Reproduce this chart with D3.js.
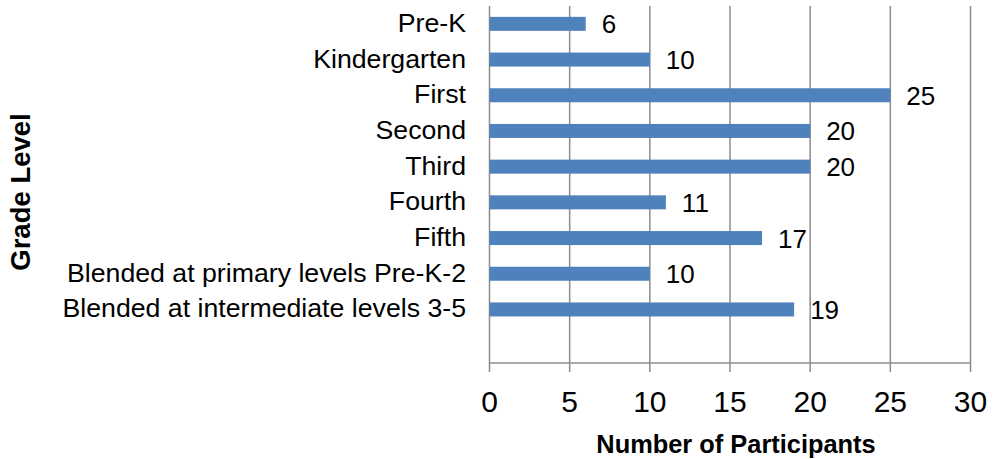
<!DOCTYPE html>
<html>
<head>
<meta charset="utf-8">
<script src="https://cdn.jsdelivr.net/npm/d3@7"></script>
<style>
  body { margin: 0; background: #fff; }
  svg text { font-family: "Liberation Sans", Arial, sans-serif; fill: #000; }
</style>
</head>
<body>
<svg id="chart" width="993" height="459"></svg>
<script>
const categories = ["Pre-K", "Kindergarten", "First", "Second", "Third", "Fourth", "Fifth",
  "Blended at primary levels Pre-K-2", "Blended at intermediate levels 3-5"];
const values = [6, 10, 25, 20, 20, 11, 17, 10, 19];
const xTicks = [0, 5, 10, 15, 20, 25, 30];
const xTitle = "Number of Participants";
const yTitle = "Grade Level";

(function () {
const svg = d3.select("#chart");
const pLeft = 489.5, pRight = 970.5, pTop = 6, pBottom = 363;

const x = d3.scaleLinear().domain([0, 30]).range([pLeft, pRight]);
const y = d3.scaleBand().domain(categories.concat(["__empty__"])).range([pTop, pBottom]).paddingInner(0.6).paddingOuter(0.3);

// gridlines + ticks
svg.append("g").selectAll("line").data(xTicks).join("line")
  .attr("x1", d => x(d)).attr("x2", d => x(d))
  .attr("y1", pTop).attr("y2", pBottom + 9)
  .attr("stroke", "#8c8c8c").attr("stroke-width", 1.5);

// x axis baseline
svg.append("line").attr("x1", pLeft).attr("x2", pRight).attr("y1", pBottom).attr("y2", pBottom)
  .attr("stroke", "#8c8c8c").attr("stroke-width", 1.5);

const data = categories.map((c, i) => ({c, v: values[i]}));
const cy = d => y(d.c) + y.bandwidth() / 2;

// bars
svg.append("g").selectAll("rect").data(data).join("rect")
  .attr("x", x(0))
  .attr("y", d => cy(d) - 7)
  .attr("width", d => x(d.v) - x(0))
  .attr("height", 14)
  .attr("fill", "#4F81BD");

// value labels
svg.append("g").selectAll("text").data(data).join("text")
  .attr("x", d => x(d.v) + 16)
  .attr("y", d => cy(d) + 9.5)
  .attr("font-size", 26)
  .text(d => d.v);

// category labels
svg.append("g").selectAll("text").data(data).join("text")
  .attr("x", 466)
  .attr("y", d => cy(d) + 8)
  .attr("text-anchor", "end")
  .attr("font-size", 26.7)
  .text(d => d.c);

// x tick labels
svg.append("g").selectAll("text").data(xTicks).join("text")
  .attr("x", d => x(d))
  .attr("y", 412)
  .attr("text-anchor", "middle")
  .attr("font-size", 30)
  .text(d => d);

// axis titles
svg.append("text").attr("x", 736).attr("y", 453).attr("text-anchor", "middle")
  .attr("font-size", 25.4).attr("font-weight", "bold").text(xTitle);

svg.append("text").attr("transform", "translate(30,192) rotate(-90)")
  .attr("text-anchor", "middle").attr("font-size", 27.5).attr("font-weight", "bold").text(yTitle);
})();
</script>
</body>
</html>
